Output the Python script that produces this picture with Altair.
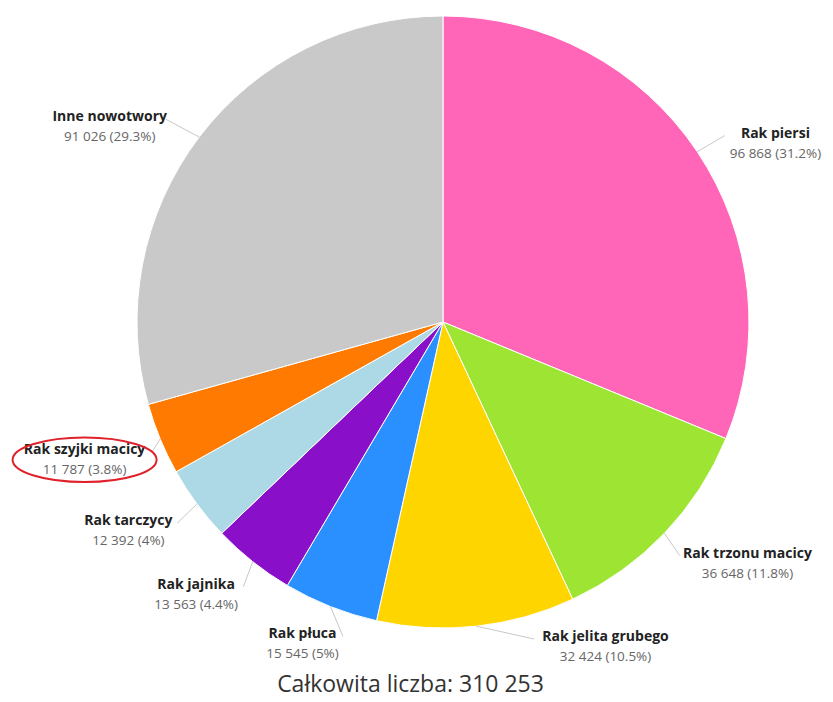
import altair as alt
import pandas as pd

names = ["Rak piersi", "Rak trzonu macicy", "Rak jelita grubego", "Rak płuca",
         "Rak jajnika", "Rak tarczycy", "Rak szyjki macicy", "Inne nowotwory"]
counts = [96868, 36648, 32424, 15545, 13563, 12392, 11787, 91026]
colors = ["#FF66B8", "#9EE432", "#FFD500", "#2A8FFF", "#8A0FC8", "#ADD8E6", "#FF7A00", "#C9C9C9"]
highlight = "Rak szyjki macicy"

total = sum(counts)


def fmt_int(v):
    return f"{v:,}".replace(",", " ")


def fmt_pct(v):
    p = round(v / total * 100, 1)
    s = f"{p:.1f}"
    if s.endswith(".0"):
        s = s[:-2]
    return s + "%"


vals = [f"{fmt_int(c)} ({fmt_pct(c)})" for c in counts]
df = pd.DataFrame({"idx": list(range(len(names))), "name": names, "count": counts, "val": vals})

W, H = 817, 662
CX, CY, R, RL = 435, 314, 306, 337
FONT = "Open Sans"

base = alt.Chart(df)

arcs = base.mark_arc(outerRadius=R, stroke="white", strokeWidth=1).encode(
    theta=alt.Theta("count:Q", stack=True),
    color=alt.Color("name:N", scale=alt.Scale(domain=names, range=colors), legend=None),
    order=alt.Order("idx:Q"),
    x=alt.value(CX),
    y=alt.value(CY),
)

lab = base.transform_window(
    cum="sum(count)", sort=[alt.SortField("idx")]
).transform_joinaggregate(
    tot="sum(count)"
).transform_calculate(
    ang="(datum.cum - datum.count/2) / datum.tot * 2 * PI"
).transform_calculate(
    side="sin(datum.ang) >= 0 ? 1 : -1",
    sx=f"{CX} + {R}*sin(datum.ang)",
    sy=f"{CY} - {R}*cos(datum.ang)",
    ly=f"min({CY} + 9 - {RL}*cos(datum.ang), {CY} + 325)",
    boxw="max(length(datum.name)*7.6, length(datum.val)*6.8)",
).transform_calculate(
    dyl=f"datum.ly - {CY}",
).transform_calculate(
    ledge0=f"{CX} + datum.side*(sqrt(max(0, {RL}*{RL} - datum.dyl*datum.dyl)) + 5)",
).transform_calculate(
    lx0="datum.ledge0 + datum.side*datum.boxw/2",
).transform_calculate(
    lx=f"datum.side < 0 ? max(datum.lx0, datum.boxw/2 + 12) : min(datum.lx0, {W} - datum.boxw/2 - 2)",
).transform_calculate(
    ledge="datum.lx - datum.side*datum.boxw/2",
    ny="datum.ly - 10",
    vy="datum.ly + 10",
).transform_calculate(
    cx2="datum.ledge - datum.side*3",
    cy2="datum.ly - 8",
)

connectors = lab.mark_rule(color="#C8C8C8", strokeWidth=1).encode(
    x=alt.X("sx:Q", scale=None),
    y=alt.Y("sy:Q", scale=None),
    x2="cx2:Q",
    y2="cy2:Q",
)

name_text = lab.mark_text(font=FONT, fontSize=14, fontWeight="bold", color="#222222",
                          align="center", baseline="middle").encode(
    x=alt.X("lx:Q", scale=None),
    y=alt.Y("ny:Q", scale=None),
    text="name:N",
)

val_text = lab.mark_text(font=FONT, fontSize=13.5, color="#666666",
                         align="center", baseline="middle").encode(
    x=alt.X("lx:Q", scale=None),
    y=alt.Y("vy:Q", scale=None),
    text="val:N",
)

ellipse = lab.transform_filter(alt.datum.name == highlight).mark_point(
    shape="M -1 0 A 1 0.31 0 1 1 1 0 A 1 0.31 0 1 1 -1 0 Z",
    filled=False, stroke="#E0202A", strokeWidth=2, opacity=1,
).encode(
    x=alt.X("lx:Q", scale=None),
    y=alt.Y("ly:Q", scale=None),
    size=alt.value(144 * 144),
)

title = alt.Title(
    f"Całkowita liczba: {fmt_int(total)}",
    orient="bottom", anchor="middle", fontSize=23, fontWeight="normal",
    font=FONT, color="#333333", offset=4, dx=-6,
)

chart = alt.layer(arcs, connectors, name_text, val_text, ellipse).properties(
    width=W, height=H, autosize="none", title=title,
    padding={"left": 0, "top": 0, "right": 0, "bottom": 32},
).configure_view(stroke=None)

chart.save("out.html", embed_options={"renderer": "svg", "actions": False})
